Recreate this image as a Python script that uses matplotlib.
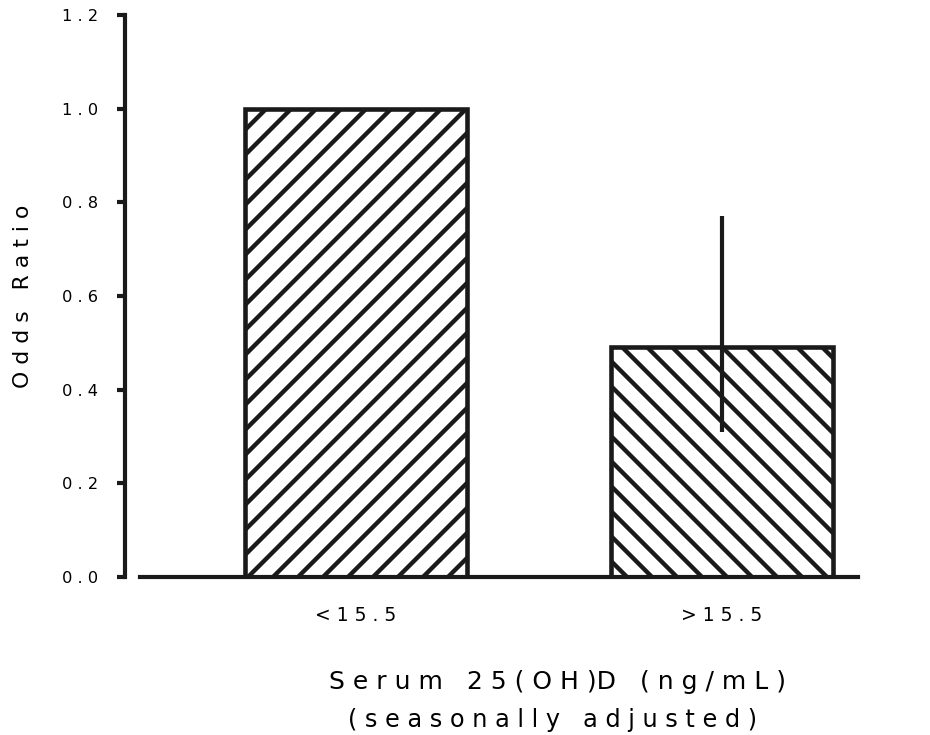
import matplotlib
matplotlib.use("Agg")
import matplotlib.pyplot as plt
import numpy as np

# data
categories = ["<15.5", ">15.5"]
odds_ratio = [1.0, 0.49]
ci_low = [np.nan, 0.31]
ci_high = [np.nan, 0.77]
hatches = ["//", "\\\\"]
yticks = [0.0, 0.2, 0.4, 0.6, 0.8, 1.0, 1.2]


def spaced(s):
    # the original type is set with very wide letter spacing
    return " ".join(s)


plt.rcParams["font.family"] = ["DejaVu Sans"]
plt.rcParams["hatch.linewidth"] = 2.1
plt.rcParams["hatch.color"] = "#1a1a1a"

fig = plt.figure(figsize=(6.2, 4.9), dpi=150)
ax = fig.add_axes([0.1344, 0.2150, 0.9226 - 0.1344, 0.9796 - 0.2150])

x = np.arange(len(categories))
for xi, v, h in zip(x, odds_ratio, hatches):
    ax.bar(xi, v, width=0.607, facecolor="white", edgecolor="#1a1a1a",
           linewidth=2.2, hatch=h, zorder=2)

# error line, no caps, drawn above the bar
for xi, lo, hi in zip(x, ci_low, ci_high):
    if not np.isnan(lo):
        ax.vlines(xi, lo, hi, color="#1a1a1a", linewidth=2.0, zorder=3)

ax.set_xlim(-0.631, 1.372)
ax.set_ylim(0, 1.2)

for side in ["top", "right"]:
    ax.spines[side].set_visible(False)
for side in ["left", "bottom"]:
    ax.spines[side].set_linewidth(2.0)
    ax.spines[side].set_color("#1a1a1a")
ax.spines["bottom"].set_bounds(-0.59, 1.372)

ax.set_yticks(yticks)
ax.set_yticklabels([spaced(f"{t:.1f}") for t in yticks])
ax.tick_params(axis="y", length=4, width=2.0, pad=9, labelsize=7.8,
               color="#1a1a1a")

ax.set_xticks(x)
ax.set_xticklabels([spaced(c) for c in categories])
ax.tick_params(axis="x", length=0, pad=14, labelsize=9)

ax.set_ylabel(spaced("Odds") + "   " + spaced("Ratio"), fontsize=10.5,
              labelpad=14)

fig.text(0.599, 1 - 682 / 735,
         spaced("Serum") + "   " + spaced("25(OH)") + "D   " + spaced("(ng/mL)"),
         ha="center", va="center", fontsize=12)
fig.text(0.594, 1 - 720 / 735, spaced("(seasonally") + "   " + spaced("adjusted)"),
         ha="center", va="center", fontsize=11.5)

fig.savefig("out.png", dpi=150)
